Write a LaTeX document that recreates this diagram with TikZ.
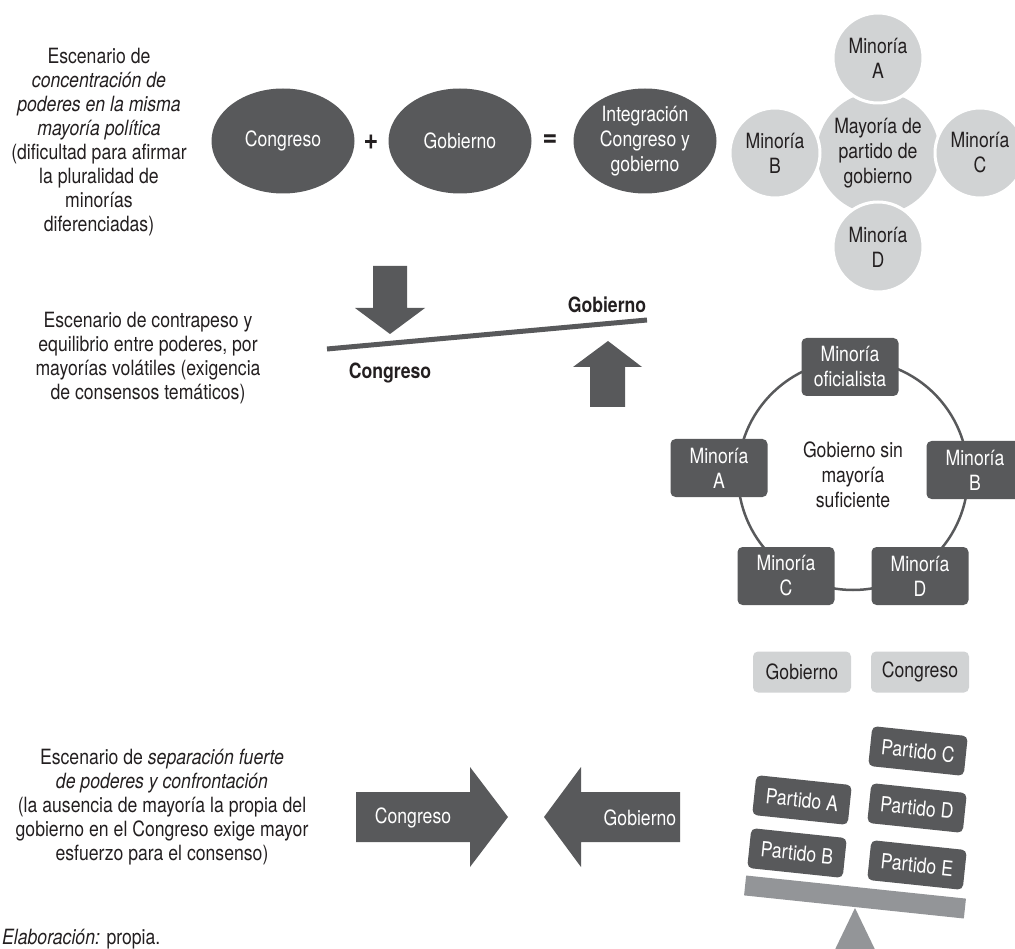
\documentclass[tikz,border=0pt]{standalone}
\usepackage{fontspec}
\setmainfont{TeX Gyre Heros}[FakeStretch=0.84]
\usetikzlibrary{shapes.geometric}
\definecolor{darkg}{HTML}{58595B}
\definecolor{lightg}{HTML}{D1D3D4}
\definecolor{midg}{HTML}{939598}
\definecolor{ink}{HTML}{231F20}
\tikzset{
  txt/.style={font=\fontsize{21}{24}\selectfont, text=ink, align=center, inner sep=0pt},
  boldlbl/.style={font=\fontsize{21}{24}\selectfont\bfseries, text=ink, inner sep=0pt},
  oplbl/.style={font=\fontsize{30}{30}\selectfont\bfseries, text=ink, inner sep=0pt},
  blob/.style={ellipse, fill=darkg, text=white, minimum width=143pt, minimum height=105pt,
    inner sep=0pt, align=center, font=\fontsize{21}{25}\selectfont},
  hub/.style={circle, fill=lightg, text=ink, minimum size=122pt, inner sep=0pt,
    align=center, font=\fontsize{21}{25}\selectfont},
  sat/.style={circle, fill=lightg, draw=white, line width=3pt, text=ink, minimum size=90pt,
    inner sep=0pt, align=center, font=\fontsize{21}{25}\selectfont},
  ring/.style={circle, draw=darkg, line width=2.5pt, minimum size=230pt, inner sep=0pt,
    text=ink, align=center, font=\fontsize{21}{25}\selectfont},
  minbox/.style={rectangle, rounded corners=5pt, fill=darkg, text=white, minimum width=97pt,
    minimum height=58pt, inner sep=0pt, align=center, font=\fontsize{21}{25}\selectfont},
  tagbox/.style={rectangle, rounded corners=5pt, fill=lightg, text=ink, minimum width=98pt,
    minimum height=41pt, inner sep=0pt, font=\fontsize{21}{25}\selectfont},
  partbox/.style={rectangle, rounded corners=5pt, fill=darkg, text=white, minimum width=96pt,
    minimum height=40pt, inner sep=0pt, rotate=-6, font=\fontsize{21}{25}\selectfont},
}
\begin{document}
\begin{tikzpicture}[x=1pt,y=-1pt]
  \useasboundingbox (0,0) rectangle (1015,949);

  % concentracion de poderes
  \node[txt] (esc1) at (99,142) {Escenario de\\ \textit{concentración de}\\ \textit{poderes en la misma}\\
    \textit{mayoría política}\\ (dificultad para afirmar\\ la pluralidad de\\ minorías\\ diferenciadas)};
  \node[blob] (cong1) at (283,141) {Congreso};
  \node[oplbl] (plus) at (371,142) {+};
  \node[blob] (gob1) at (460,141) {Gobierno};
  \node[oplbl] (eq) at (550,141) {=};
  \node[blob] (integ) at (645,141) {Integración\\ Congreso y\\ gobierno};
  \node[hub] (mayor) at (878,153) {Mayoría de\\ partido de\\ gobierno};
  \node[sat] (satA) at (878,58) {Minoría\\ A};
  \node[sat] (satB) at (775,153) {Minoría\\ B};
  \node[sat] (satC) at (980,153) {Minoría\\ C};
  \node[sat] (satD) at (878,247) {Minoría\\ D};

  % contrapeso
  \node[txt] (esc2) at (148,358) {Escenario de contrapeso y\\ equilibrio entre poderes, por\\
    mayorías volátiles (exigencia\\ de consensos temáticos)};
  \fill[darkg] (373,266) -- (407,266) -- (407,308) -- (425,308) -- (390,334) -- (355,308)
    -- (373,308) -- cycle;
  \fill[darkg] (590,407) -- (625,407) -- (625,367) -- (642,367) -- (608,341) -- (573,367)
    -- (590,367) -- cycle;
  \coordinate (lvL) at (327,349);
  \coordinate (lvR) at (647,320);
  \draw[darkg, line width=5pt] (lvL) -- (lvR);
  \node[boldlbl] (gob2) at (607,305) {Gobierno};
  \node[boldlbl] (cong2) at (390,373) {Congreso};

  \node[ring] (govring) at (853,475) {Gobierno sin\\ mayoría\\ suficiente};
  \node[minbox] (ofic) at (850,367) {Minoría\\ oficialista};
  \node[minbox] (minA) at (719,468) {Minoría\\ A};
  \node[minbox] (minB) at (975,470) {Minoría\\ B};
  \node[minbox] (minC) at (786,576) {Minoría\\ C};
  \node[minbox] (minD) at (920,576) {Minoría\\ D};

  % separacion fuerte
  \node[txt] (esc3) at (162,807) {Escenario de \textit{separación fuerte}\\ \textit{de poderes y confrontación}\\
    (la ausencia de mayoría la propia del\\ gobierno en el Congreso exige mayor\\ esfuerzo para el consenso)};
  \fill[darkg] (356,792) -- (470,792) -- (470,767) -- (508,817) -- (470,867) -- (470,842)
    -- (356,842) -- cycle;
  \fill[darkg] (680,792) -- (581,792) -- (581,767) -- (544,817) -- (581,867) -- (581,842)
    -- (680,842) -- cycle;
  \node[txt, text=white] (cong3) at (413,818) {Congreso};
  \node[txt, text=white] (gob3) at (640,818) {Gobierno};

  \node[tagbox] (gobtag) at (802,672) {Gobierno};
  \node[tagbox] (congtag) at (920,672) {Congreso};
  \node[partbox] (partC) at (918,751) {Partido C};
  \node[partbox] (partA) at (802,800) {Partido A};
  \node[partbox] (partD) at (917,808) {Partido D};
  \node[partbox] (partB) at (797,853) {Partido B};
  \node[partbox] (partE) at (917,865) {Partido E};
  \node[rectangle, fill=midg, minimum width=221pt, minimum height=20pt, inner sep=0pt,
    rotate=-6] (plank) at (855,897) {};
  \fill[midg] (855,908) -- (881,962) -- (829,962) -- cycle;

  \node[txt, anchor=base west] (source) at (2,944) {\textit{Elaboración:} propia.};
\end{tikzpicture}
\end{document}
